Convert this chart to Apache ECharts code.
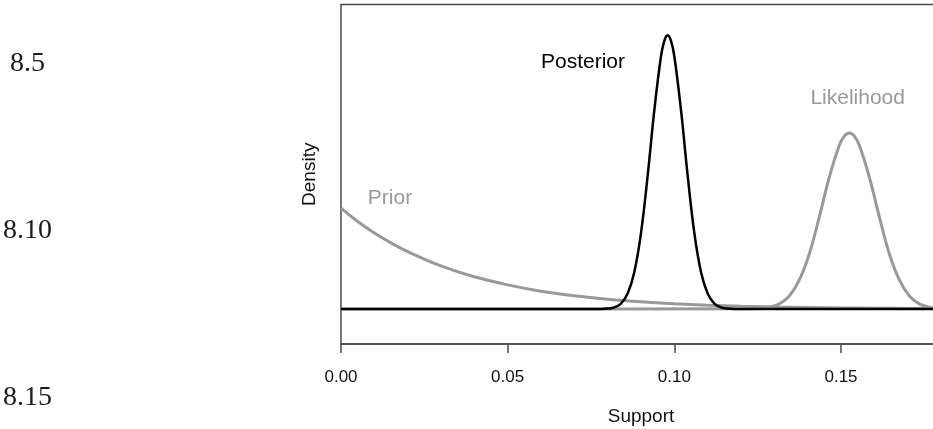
<!DOCTYPE html>
<html>
<head>
<meta charset="utf-8">
<script src="https://cdn.jsdelivr.net/npm/echarts@6/dist/echarts.min.js"></script>
<style>
  html, body { margin: 0; padding: 0; background: #fff; }
  #chart { width: 933px; height: 429px; }
</style>
</head>
<body>
<div id="chart"></div>
<script>
// values (density in arbitrary units, baseline = 0)
var priorX = [0, 0.005, 0.01, 0.015, 0.02, 0.03, 0.04, 0.05, 0.06, 0.07, 0.08, 0.09, 0.10, 0.11, 0.12, 0.13, 0.14, 0.15, 0.16, 0.17, 0.18];
var priorY = [28.8, 25.0, 21.7, 18.9, 16.4, 12.3, 9.2, 6.9, 5.1, 3.8, 2.8, 2.05, 1.5, 1.1, 0.8, 0.58, 0.42, 0.3, 0.22, 0.16, 0.11];

var postX = [0, 0.078, 0.080, 0.082, 0.084, 0.086, 0.088, 0.090, 0.092, 0.094, 0.096, 0.097, 0.098, 0.099, 0.100, 0.102, 0.104, 0.106, 0.108, 0.110, 0.112, 0.114, 0.116, 0.118, 0.18];
var postY = [0, 0, 0.12, 0.47, 1.55, 4.4, 10.6, 21.7, 38.1, 56.8, 72.2, 76.6, 78.2, 76.6, 72.2, 56.8, 38.1, 21.7, 10.6, 4.4, 1.55, 0.47, 0.12, 0, 0];

var likeX = [0, 0.1225, 0.1255, 0.1285, 0.1315, 0.1345, 0.1375, 0.1405, 0.1435, 0.1465, 0.1495, 0.151, 0.1525, 0.154, 0.1555, 0.1585, 0.1615, 0.1645, 0.1675, 0.1705, 0.1735, 0.1765, 0.1795];
var likeY = [0, 0.04, 0.15, 0.5, 1.46, 3.7, 8.3, 15.8, 26.3, 37.7, 46.8, 49.4, 50.3, 49.4, 46.8, 37.7, 26.3, 15.8, 8.3, 3.7, 1.46, 0.5, 0.15];

var xTicks = [0, 0.05, 0.10, 0.15];
var marginLabels = ['8.5', '8.10', '8.15'];

var grey = '#999999';

function pairs(xs, ys) {
    var out = [];
    for (var i = 0; i < xs.length; i++) out.push([xs[i], ys[i]]);
    return out;
}

function note(text, x, y, color) {
    return {
        data: [{
            coord: [x, y],
            symbol: 'circle',
            symbolSize: 0,
            label: {
                show: true,
                position: 'inside',
                formatter: text,
                color: color,
                fontSize: 21,
                fontFamily: 'Liberation Sans, Arial, sans-serif'
            }
        }],
        silent: true,
        animation: false
    };
}

var chart = echarts.init(document.getElementById('chart'));

var option = {
    animation: false,
    backgroundColor: '#fff',
    grid: {
        left: 341,
        top: 4.5,
        width: 600,
        bottom: 85,
        outerBoundsMode: 'none',
        containLabel: false,
        show: true,
        borderColor: '#4a4a4a',
        borderWidth: 1.5,
        backgroundColor: 'transparent'
    },
    xAxis: {
        type: 'value',
        min: 0,
        max: 0.18,
        interval: 0.05,
        name: 'Support',
        nameLocation: 'middle',
        nameGap: 63,
        nameTextStyle: { fontSize: 19, color: '#111', fontFamily: 'Liberation Sans, Arial, sans-serif' },
        axisLine: { show: true, onZero: false, lineStyle: { color: '#4a4a4a', width: 1.5 } },
        axisTick: { show: true, inside: false, length: 9, lineStyle: { color: '#4a4a4a', width: 1.5 } },
        splitLine: { show: false },
        axisLabel: {
            margin: 25,
            fontSize: 17,
            color: '#111',
            fontFamily: 'Liberation Sans, Arial, sans-serif',
            showMaxLabel: false,
            formatter: function (v) {
                for (var i = 0; i < xTicks.length; i++) {
                    if (Math.abs(v - xTicks[i]) < 1e-9) return xTicks[i].toFixed(2);
                }
                return '';
            }
        }
    },
    yAxis: {
        type: 'value',
        min: -10,
        max: 87,
        name: 'Density',
        nameLocation: 'middle',
        nameGap: 22,
        nameTextStyle: { fontSize: 19, color: '#111', fontFamily: 'Liberation Sans, Arial, sans-serif' },
        axisLine: { show: false },
        axisTick: { show: false },
        axisLabel: { show: false },
        splitLine: { show: false }
    },
    graphic: marginLabels.map(function (t, i) {
        return {
            type: 'text',
            x: i === 0 ? 10 : 3,
            y: [64, 231, 398][i],
            style: {
                text: t,
                fill: '#1a1a1a',
                fontSize: 28,
                fontFamily: 'Liberation Serif, Times New Roman, serif',
                verticalAlign: 'middle'
            }
        };
    }),
    series: [
        {
            name: 'Prior',
            type: 'line',
            data: pairs(priorX, priorY),
            showSymbol: false,
            smooth: 0.4,
            lineStyle: { color: grey, width: 3 },
            markPoint: note('Prior', 0.0147, 31.7, grey)
        },
        {
            name: 'Likelihood',
            type: 'line',
            data: pairs(likeX, likeY),
            showSymbol: false,
            smooth: 0.4,
            lineStyle: { color: grey, width: 3 },
            markPoint: note('Likelihood', 0.155, 60.2, grey)
        },
        {
            name: 'Posterior',
            type: 'line',
            data: pairs(postX, postY),
            showSymbol: false,
            smooth: 0.4,
            lineStyle: { color: '#000', width: 2.5 },
            markPoint: note('Posterior', 0.0726, 70.5, '#000')
        }
    ]
};

chart.setOption(option);
</script>
</body>
</html>
